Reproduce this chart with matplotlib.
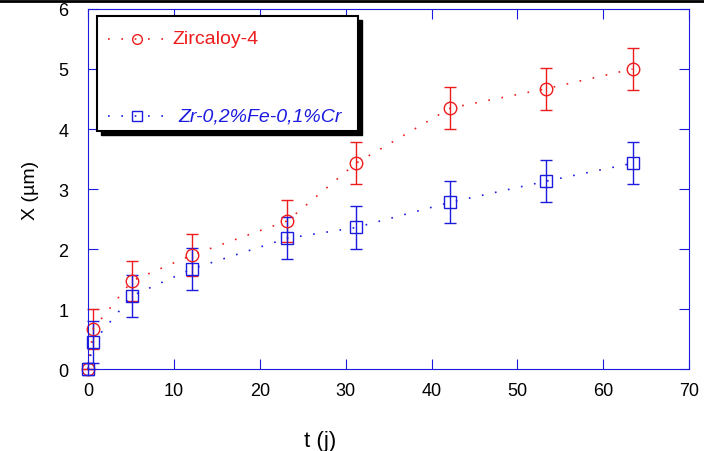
import matplotlib.pyplot as plt
from matplotlib.lines import Line2D
from matplotlib.patches import Rectangle

# time (days)
t_zy4 = [0, 0.6, 5.1, 12.1, 23.2, 31.2, 42.2, 53.3, 63.4]
x_zy4 = [0, 0.67, 1.47, 1.90, 2.47, 3.43, 4.35, 4.67, 5.00]
err_zy4 = [0, 0.33, 0.34, 0.35, 0.35, 0.35, 0.35, 0.35, 0.35]

t_zr = [0, 0.6, 5.1, 12.1, 23.2, 31.2, 42.2, 53.3, 63.4]
x_zr = [0, 0.45, 1.22, 1.67, 2.18, 2.36, 2.78, 3.13, 3.43]
err_zr = [0.1, 0.35, 0.35, 0.35, 0.35, 0.35, 0.35, 0.35, 0.35]

labels = ["Zircaloy-4", "Zr-0,2%Fe-0,1%Cr"]
red, blue = "#ee1c1c", "#1c1ce0"

plt.rcParams['font.family'] = ['Liberation Sans', 'DejaVu Sans']
fig = plt.figure(figsize=(7.04, 4.52), dpi=100)
ax = fig.add_axes([0.125, 0.181, 0.854, 0.797])

dots = (0, (1, 7))
for t, x, e, c, m in [(t_zy4, x_zy4, err_zy4, red, 'o'), (t_zr, x_zr, err_zr, blue, 's')]:
    lines = ax.errorbar(t, x, yerr=e, color=c, ls=dots, lw=1.2,
                        marker=m, ms=9, mfc='none', mec=c, mew=1, capsize=4,
                        elinewidth=1, capthick=1)
    for art in lines.lines[0:1] + tuple(lines.lines[1]) + tuple(lines.lines[2]):
        art.set_clip_on(False)

ax.set_xlim(0, 70)
ax.set_ylim(0, 6)
ax.set_xticks(range(0, 71, 10))
ax.set_yticks(range(0, 7))
for s in ax.spines.values():
    s.set_color(blue)
ax.tick_params(direction='in', top=True, right=True, length=7, color=blue,
               labelsize=13)
ax.tick_params(axis='x', pad=9)
ax.tick_params(axis='y', pad=14)
ax.set_xlabel("t (j)", fontsize=16)
ax.xaxis.set_label_coords(0.386, -0.17)
ax.set_ylabel("X (µm)", fontsize=14, labelpad=14)

# legend box with shadow
ax.add_patch(Rectangle((1.55, 3.9), 30.35, 1.91, facecolor='black',
                       edgecolor='black', zorder=4, clip_on=False))
ax.add_patch(Rectangle((1.05, 3.97), 30.35, 1.91, facecolor='white',
                       edgecolor='black', lw=1.5, zorder=5))
ax.add_line(Line2D([2.3, 9.0], [5.5, 5.5], color=red, ls=dots, lw=1.2, zorder=6))
ax.plot([5.7], [5.5], marker='o', ms=7, mfc='none', mec=red, zorder=6)
ax.add_line(Line2D([2.3, 9.0], [4.22, 4.22], color=blue, ls=dots, lw=1.2, zorder=6))
ax.plot([5.7], [4.22], marker='s', ms=7, mfc='none', mec=blue, zorder=6)
ax.text(9.8, 5.5, labels[0], color=red, fontsize=14, va='center', zorder=7)
ax.text(10.5, 4.22, labels[1], color=blue, fontsize=14, va='center',
        style='italic', zorder=7)

fig.add_artist(Line2D([0, 1], [0.995, 0.995], color='black', lw=2))

fig.savefig("out.png", dpi=100)
